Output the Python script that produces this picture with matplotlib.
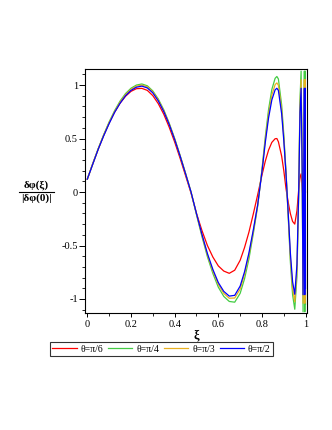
import matplotlib
matplotlib.use("Agg")
import matplotlib.pyplot as plt
from matplotlib.lines import Line2D
from matplotlib.ticker import MultipleLocator

plt.rcParams['font.family'] = ['Liberation Serif', 'DejaVu Serif']
plt.rcParams['axes.unicode_minus'] = False

# xi values the curves were read at
xi = [0, 0.025, 0.05, 0.075, 0.1, 0.125, 0.15, 0.175, 0.2, 0.225,
      0.25, 0.275, 0.3, 0.325, 0.35, 0.375, 0.4, 0.425, 0.45, 0.475,
      0.5, 0.525, 0.55, 0.575, 0.6, 0.625, 0.65, 0.675, 0.7, 0.72,
      0.74, 0.76, 0.78, 0.8, 0.815, 0.83, 0.845, 0.86, 0.868, 0.875,
      0.89, 0.9, 0.91, 0.92, 0.93, 0.94, 0.95, 0.96, 0.968, 0.974,
      0.979, 0.984, 0.988, 0.991, 0.994, 0.996, 0.998, 0.999]

# theta = pi/6
y_pi6 = [0.12, 0.264, 0.401, 0.530, 0.645, 0.746, 0.830, 0.895, 0.941, 0.966,
         0.969, 0.95, 0.901, 0.826, 0.728, 0.606, 0.468, 0.315, 0.153, -0.01,
         -0.2, -0.36, -0.50, -0.608, -0.691, -0.739, -0.76, -0.731, -0.638, -0.519,
         -0.376, -0.206, -0.027, 0.16, 0.288, 0.392, 0.464, 0.498, 0.5, 0.47,
         0.335, 0.196, 0.03, -0.097, -0.203, -0.275, -0.3, -0.175, 0.022, 0.137,
         0.17, 0.05, -0.08, 0.05, 0.08, -0.05, 0.05, 0.0]

# theta = pi/4
y_pi4 = [0.12, 0.265, 0.405, 0.535, 0.655, 0.76, 0.85, 0.92, 0.97, 1.0,
         1.01, 0.993, 0.945, 0.87, 0.769, 0.644, 0.50, 0.342, 0.174, 0.0,
         -0.212, -0.416, -0.605, -0.761, -0.89, -0.976, -1.023, -1.03, -0.947, -0.811,
         -0.626, -0.391, -0.134, 0.214, 0.515, 0.771, 0.959, 1.063, 1.08, 1.057,
         0.813, 0.529, 0.183, -0.231, -0.658, -0.96, -1.096, -0.79, 0.0, 0.87,
         1.13, 0.23, -1.12, 0.0, 1.13, -1.12, 1.13, -1.05]

# theta = pi/3
y_pi3 = [0.12, 0.263, 0.402, 0.53, 0.648, 0.752, 0.84, 0.91, 0.96, 0.99,
         1.0, 0.983, 0.936, 0.861, 0.761, 0.638, 0.496, 0.339, 0.172, 0.0,
         -0.206, -0.404, -0.587, -0.739, -0.864, -0.948, -0.993, -0.991, -0.907, -0.77,
         -0.59, -0.37, -0.126, 0.202, 0.487, 0.728, 0.906, 1.004, 1.02, 0.999,
         0.768, 0.50, 0.172, -0.216, -0.616, -0.899, -1.026, -0.73, 0.0, 0.8,
         1.05, 0.21, -1.04, 0.0, 1.05, -1.04, 1.05, -0.97]

# theta = pi/2
y_pi2 = [0.12, 0.26, 0.40, 0.525, 0.64, 0.745, 0.83, 0.90, 0.95, 0.98,
         0.99, 0.973, 0.927, 0.852, 0.753, 0.632, 0.491, 0.336, 0.170, 0.0,
         -0.202, -0.396, -0.575, -0.724, -0.847, -0.929, -0.973, -0.966, -0.879, -0.746,
         -0.570, -0.356, -0.121, 0.192, 0.462, 0.693, 0.861, 0.955, 0.97, 0.95,
         0.73, 0.475, 0.164, -0.20, -0.574, -0.838, -0.956, -0.68, 0.0, 0.75,
         0.97, 0.2, -0.96, 0.0, 0.97, -0.96, 0.97, -0.9]

labels = ['θ=π/6', 'θ=π/4', 'θ=π/3', 'θ=π/2']
colors = ['#ff0000', '#44cc44', '#e8b020', '#0000ff']

xticks = [0, 0.2, 0.4, 0.6, 0.8, 1]
xticklabels = ['0', '0.2', '0.4', '0.6', '0.8', '1']
yticks = [-1, -0.5, 0, 0.5, 1]
yticklabels = ['-1', '-0.5', '0', '0.5', '1']

W, H = 332, 430
fig = plt.figure(figsize=(W / 100, H / 100), dpi=100)
ax = fig.add_axes([85 / W, 1 - 313 / H, (307 - 85) / W, (313 - 69) / H])

for ys, c, lab in zip([y_pi6, y_pi4, y_pi3, y_pi2], colors, labels):
    ax.plot(xi, ys, color=c, lw=0.9, label=lab)

ax.set_xlim(-0.0105, 1.006)
ax.set_ylim(-1.131, 1.15)
ax.set_xticks(xticks)
ax.set_xticklabels(xticklabels)
ax.set_yticks(yticks)
ax.set_yticklabels(yticklabels)
ax.xaxis.set_minor_locator(MultipleLocator(0.1))
ax.yaxis.set_minor_locator(MultipleLocator(0.1))
ax.tick_params(axis='both', which='major', direction='out', labelsize=7.5,
               width=0.7, top=False, right=False)
ax.tick_params(axis='x', which='major', length=3, pad=2)
ax.tick_params(axis='y', which='major', length=4, pad=1)
ax.tick_params(axis='both', which='minor', direction='out', length=2, width=0.6,
               top=False, right=False)
for s in ax.spines.values():
    s.set_linewidth(0.8)

fig.text(196 / W, 1 - 335 / H, 'ξ', ha='center', va='center',
         fontsize=9, fontweight='bold')

# y label as a stacked fraction
fig.text(36 / W, 1 - 185 / H, 'δφ(ξ)', ha='center', va='center',
         fontsize=8, fontweight='bold')
fig.text(36.5 / W, 1 - 198.5 / H, '|δφ(0)|', ha='center', va='center',
         fontsize=8, fontweight='bold')
fig.add_artist(Line2D([19 / W, 54 / W], [1 - 191.5 / H, 1 - 191.5 / H],
                      color='black', lw=0.8, transform=fig.transFigure))

leg = fig.legend(loc='center', bbox_to_anchor=(161.5 / W, 1 - 349 / H), ncol=4,
                 fontsize=7, frameon=True, fancybox=False, handlelength=2.5,
                 handletextpad=0.4, columnspacing=0.5, borderpad=0.3,
                 borderaxespad=0)
leg.get_frame().set_edgecolor('black')
leg.get_frame().set_linewidth(0.8)

fig.savefig('out.png', dpi=100)
